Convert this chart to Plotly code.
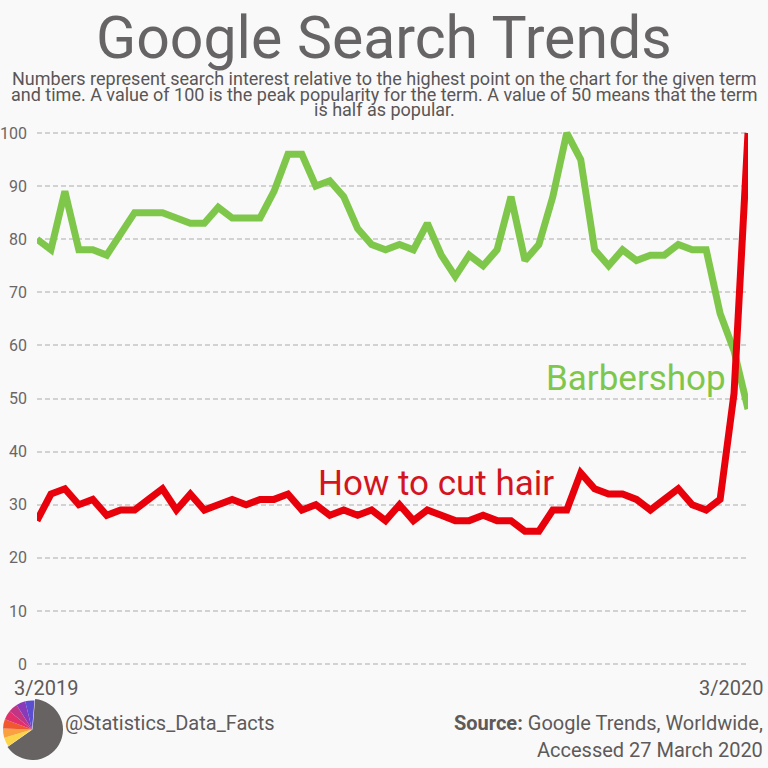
import plotly.graph_objects as go
import pandas as pd

# ---------------- data ----------------
weeks = pd.date_range("2019-03-31", periods=52, freq="7D")
barbershop = [80, 78, 89, 78, 78, 77, 81, 85, 85, 85, 84, 83, 83, 86, 84, 84, 84, 89, 96, 96,
              90, 91, 88, 82, 79, 78, 79, 78, 83, 77, 73, 77, 75, 78, 88, 76, 79, 88, 100, 95,
              78, 75, 78, 76, 77, 77, 79, 78, 78, 66, 59, 48]
how_to_cut_hair = [27, 32, 33, 30, 31, 28, 29, 29, 31, 33, 29, 32, 29, 30, 31, 30, 31, 31, 32, 29,
                   30, 28, 29, 28, 29, 27, 30, 27, 29, 28, 27, 27, 28, 27, 27, 25, 25, 29, 29, 36,
                   33, 32, 32, 31, 29, 31, 33, 30, 29, 31, 51, 100]
y_ticks = [0, 10, 20, 30, 40, 50, 60, 70, 80, 90, 100]
x_labels = ["3/2019", "3/2020"]
series_names = ["Barbershop", "How to cut hair"]

title = "Google Search Trends"
subtitle_lines = [
    "Numbers represent search interest relative to the highest point on the chart for the given term",
    "and time. A value of 100 is the peak popularity for the term. A value of 50 means that the term",
    "is half as popular.",
]

W = H = 768
BG = "#f9f9f9"
GREEN = "#7fc74a"
RED = "#e8000b"
GRAY = "#676363"
FONT = "Roboto"
PAD = 0.35  # tiny range padding so the 0 and 100 gridlines are drawn

def px(x):
    return x / W

def py(y):
    return 1 - y / H

fig = go.Figure()
fig.add_trace(go.Scatter(x=weeks, y=barbershop, mode="lines", name=series_names[0],
                         line=dict(color=GREEN, width=7), hoverinfo="skip"))
fig.add_trace(go.Scatter(x=weeks, y=how_to_cut_hair, mode="lines", name=series_names[1],
                         line=dict(color=RED, width=7), hoverinfo="skip"))

# logo (decorative pie)
logo_cols = ["#fbd44a", "#f9a03f", "#f0592f", "#e1306c", "#c13584", "#8a3ab9", "#5b4fd0"]
fig.add_trace(go.Pie(values=[230, 130], sort=False, direction="clockwise", rotation=5,
                     marker=dict(colors=[GRAY, "rgba(0,0,0,0)"], line=dict(width=0)),
                     textinfo="none", hoverinfo="skip", showlegend=False, automargin=False,
                     domain=dict(x=[px(2), px(63)], y=[py(762), py(697)])))
fig.add_trace(go.Pie(values=[230] + [130 / 7] * 7, sort=False, direction="clockwise", rotation=5,
                     marker=dict(colors=["rgba(0,0,0,0)"] + logo_cols, line=dict(width=0)),
                     textinfo="none", hoverinfo="skip", showlegend=False, automargin=False,
                     domain=dict(x=[px(3), px(61)], y=[py(759), py(700)])))

ann = []
ann.append(dict(text=title, x=0.5, y=py(38), xref="paper", yref="paper", xanchor="center",
                yanchor="middle", showarrow=False, font=dict(family=FONT, size=59, color="#666464")))
for i, (line, yc) in enumerate(zip(subtitle_lines, [78, 94, 110])):
    ann.append(dict(text=line, x=0.5, y=py(yc), xref="paper", yref="paper", xanchor="center",
                    yanchor="middle", showarrow=False, font=dict(family=FONT, size=18, color="#5a5656")))
ann.append(dict(text=series_names[0], x=px(728), y=py(378), xref="paper", yref="paper",
                xanchor="right", yanchor="middle", showarrow=False,
                font=dict(family=FONT, size=35, color=GREEN)))
ann.append(dict(text=series_names[1], x=px(316), y=py(483), xref="paper", yref="paper",
                xanchor="left", yanchor="middle", showarrow=False,
                font=dict(family=FONT, size=35, color="#d4141e")))
ann.append(dict(text=x_labels[0], x=px(12), y=py(688), xref="paper", yref="paper",
                xanchor="left", yanchor="middle", showarrow=False,
                font=dict(family=FONT, size=20, color="#5e5a5a")))
ann.append(dict(text=x_labels[1], x=px(765), y=py(688), xref="paper", yref="paper",
                xanchor="right", yanchor="middle", showarrow=False,
                font=dict(family=FONT, size=20, color="#5e5a5a")))
ann.append(dict(text="@Statistics_Data_Facts", x=px(63), y=py(723), xref="paper", yref="paper",
                xanchor="left", yanchor="middle", showarrow=False,
                font=dict(family=FONT, size=20, color="#5e5a5a")))
ann.append(dict(text="<b>Source:</b> Google Trends, Worldwide,", x=px(765), y=py(723), xref="paper",
                yref="paper", xanchor="right", yanchor="middle", showarrow=False,
                font=dict(family=FONT, size=20, color="#5e5a5a")))
ann.append(dict(text="Accessed 27 March 2020", x=px(765), y=py(750), xref="paper", yref="paper",
                xanchor="right", yanchor="middle", showarrow=False,
                font=dict(family=FONT, size=20, color="#5e5a5a")))

unit = (664 - 133) / 100.0
fig.update_layout(
    width=W, height=H, autosize=False,
    margin=dict(l=0, r=0, t=0, b=0, pad=0, autoexpand=False),
    paper_bgcolor=BG, plot_bgcolor=BG,
    showlegend=False,
    annotations=ann,
    xaxis=dict(domain=[px(37), px(748)], range=[weeks[0], weeks[-1]], showgrid=False,
               zeroline=False, showline=False, showticklabels=False, ticks="", automargin=False),
    yaxis=dict(domain=[py(664 + PAD * unit), py(133 - PAD * unit)], range=[-PAD, 100 + PAD],
               tickvals=y_ticks,
               showgrid=True, gridcolor="#d2d2d2", gridwidth=1.5, griddash="5px,3px",
               zeroline=False, showline=False, ticks="", automargin=False,
               ticklabelstandoff=9,
               tickfont=dict(family=FONT, size=16, color="#6a6666")),
)

fig.write_html("out.html", config={"displayModeBar": False},
               post_script="document.body.style.margin='0';document.body.style.overflow='hidden';"
                           "document.documentElement.style.background='#f9f9f9';")
